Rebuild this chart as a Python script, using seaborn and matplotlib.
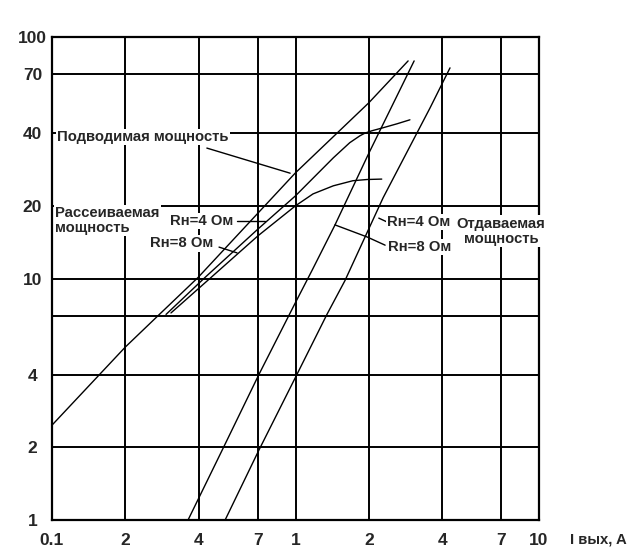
import numpy as np
import pandas as pd
import seaborn as sns
import matplotlib.pyplot as plt
from matplotlib.ticker import NullLocator

# Значения (ток I вых, А -> мощность, Вт)
input_i = [0.1, 0.2, 0.272, 0.398, 1.0, 2.0, 2.9]
input_p = [2.47, 5.2, 7.0, 10.1, 27.4, 53.4, 79.6]

diss4_i = [0.294, 0.425, 0.70, 1.0, 1.43, 1.67, 1.84, 1.93, 2.06, 2.29, 2.61, 2.95]
diss4_p = [7.1, 10.1, 16.0, 22.0, 31.6, 36.5, 39.0, 40.0, 40.9, 42.1, 43.7, 45.4]

diss8_i = [0.308, 0.45, 0.70, 1.0, 1.18, 1.43, 1.72, 1.97, 2.26]
diss8_p = [7.2, 10.1, 15.0, 20.0, 22.4, 24.2, 25.4, 25.7, 25.8]

out8_i = [0.362, 0.504, 0.708, 0.995, 1.169, 1.45, 2.0, 3.07]
out8_p = [1.0, 1.98, 4.01, 7.88, 10.8, 16.6, 33.0, 79.6]

out4_i = [0.514, 0.708, 1.014, 1.346, 1.596, 2.29, 3.57, 4.31]
out4_p = [1.0, 1.95, 4.01, 7.1, 9.8, 21.6, 50.9, 74.5]

x_ticks = [0.1, 0.2, 0.4, 0.7, 1, 2, 4, 7, 10]
x_labels = ['0.1', '2', '4', '7', '1', '2', '4', '7', '10']
y_ticks = [1, 2, 4, 7, 10, 20, 40, 70, 100]
y_labels = ['1', '2', '4', '', '10', '20', '40', '70', '100']

sns.set_style('white')
plt.rcParams['font.family'] = ['Liberation Sans', 'DejaVu Sans']

fig = plt.figure(figsize=(6.37, 5.57), dpi=100)
ax = fig.add_axes([0.0816, 0.0664, 0.7646, 0.8672])

curves = [(input_i, input_p), (diss4_i, diss4_p), (diss8_i, diss8_p),
          (out8_i, out8_p), (out4_i, out4_p)]
for xs, ys in curves:
    sns.lineplot(x=xs, y=ys, ax=ax, color='black', lw=1.0,
                 sort=False, estimator=None, zorder=3)

ax.set_xscale('log')
ax.set_yscale('log')
ax.set_xlim(0.1, 10)
ax.set_ylim(1, 100)
ax.set_xticks(x_ticks, x_labels)
ax.set_yticks(y_ticks, y_labels)
ax.xaxis.set_minor_locator(NullLocator())
ax.yaxis.set_minor_locator(NullLocator())
ax.grid(True, color='black', lw=1.4)
ax.set_axisbelow(True)
ax.tick_params(length=0, labelsize=12.5)
ax.tick_params(axis='x', pad=9)
ax.tick_params(axis='y', pad=14)
for lbl in ax.get_xticklabels() + ax.get_yticklabels():
    lbl.set_fontweight('bold')
for lbl in ax.get_yticklabels():
    lbl.set_horizontalalignment('center')
for sp in ax.spines.values():
    sp.set_color('black')
    sp.set_linewidth(1.6)

# Подписи
box = dict(facecolor='white', edgecolor='none', pad=1)
txt = dict(fontsize=10.7, fontweight='bold', transform=ax.transAxes, zorder=5)

ax.text(0.010, 0.793, 'Подводимая мощность', ha='left', va='center', bbox=box, **txt)
ax.plot([0.318, 0.489], [0.770, 0.718], color='black', lw=1.0, transform=ax.transAxes, zorder=4)

ax.text(0.006, 0.650, 'Рассеиваемая\nмощность', ha='left', va='top', linespacing=1.1, bbox=box, **txt)
ax.text(0.242, 0.619, 'Rн=4 Ом', ha='left', va='center', bbox=box, **txt)
ax.plot([0.380, 0.437], [0.619, 0.619], color='black', lw=1.0, transform=ax.transAxes, zorder=4)
ax.text(0.201, 0.573, 'Rн=8 Ом', ha='left', va='center', bbox=box, **txt)
ax.plot([0.343, 0.380], [0.565, 0.553], color='black', lw=1.0, transform=ax.transAxes, zorder=4)

ax.text(0.688, 0.617, 'Rн=4 Ом', ha='left', va='center', bbox=box, **txt)
ax.plot([0.671, 0.688], [0.625, 0.617], color='black', lw=1.0, transform=ax.transAxes, zorder=4)
ax.text(0.690, 0.565, 'Rн=8 Ом', ha='left', va='center', bbox=box, **txt)
ax.plot([0.581, 0.647, 0.684], [0.611, 0.586, 0.569], color='black', lw=1.0,
        transform=ax.transAxes, zorder=4)
ax.text(0.922, 0.598, 'Отдаваемая\nмощность', ha='center', va='center',
        multialignment='center', linespacing=1.1, bbox=box, **txt)

fig.text(570 / 637, 1 - 540 / 557, 'I вых, A', fontsize=10.7, fontweight='bold',
         ha='left', va='center')

fig.savefig('out.png', dpi=100)
plt.close(fig)
